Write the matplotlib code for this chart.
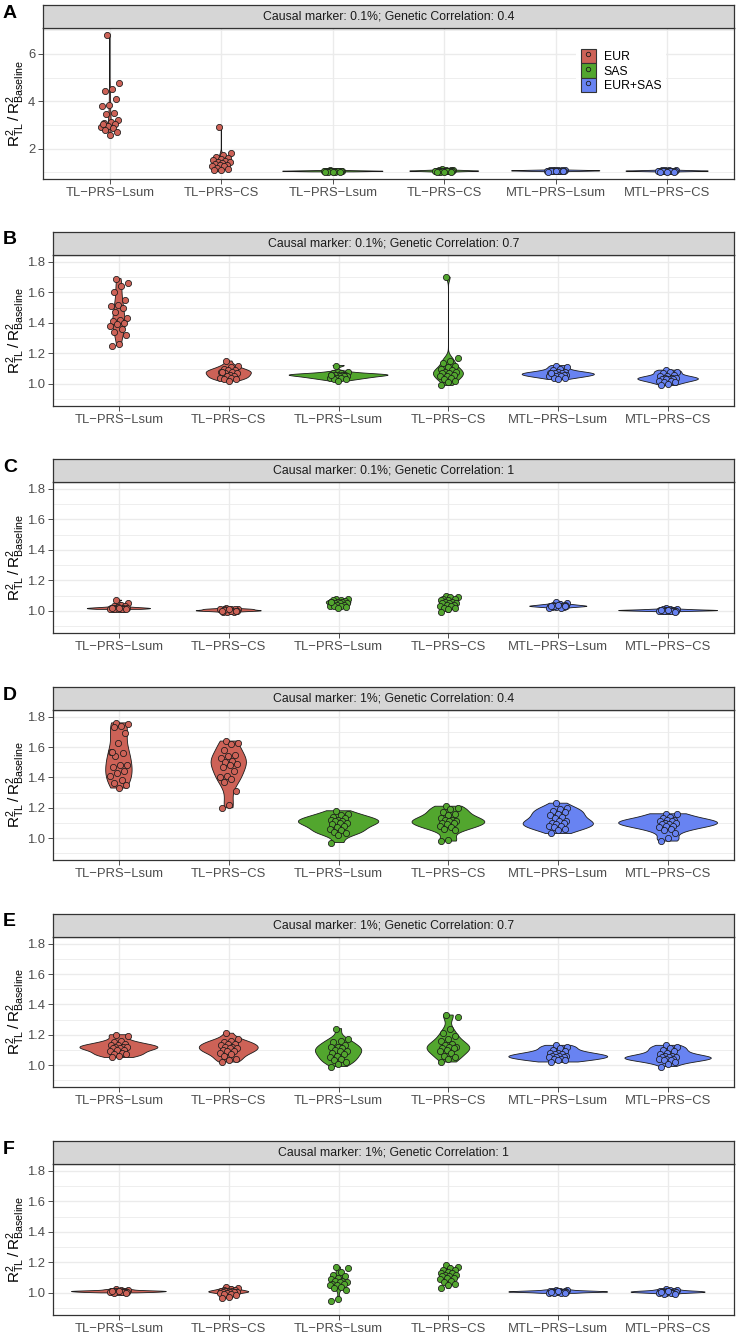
import numpy as np
import matplotlib
matplotlib.use("Agg")
import matplotlib.pyplot as plt
from matplotlib.patches import Patch
from matplotlib.lines import Line2D
from matplotlib.legend_handler import HandlerTuple

plt.rcParams['font.family'] = ['Liberation Sans', 'DejaVu Sans']
plt.rcParams['mathtext.fontset'] = 'custom'
plt.rcParams['mathtext.rm'] = 'Liberation Sans'

# categories
methods = ["TL-PRS-Lsum", "TL-PRS-CS", "TL-PRS-Lsum", "TL-PRS-CS", "MTL-PRS-Lsum", "MTL-PRS-CS"]
groups = ["EUR", "EUR", "SAS", "SAS", "EUR+SAS", "EUR+SAS"]
colors = {"EUR": "#CD6257", "SAS": "#52A62E", "EUR+SAS": "#6883F2"}
letters = ["A", "B", "C", "D", "E", "F"]
titles = ["Causal marker: 0.1%; Genetic Correlation: 0.4",
          "Causal marker: 0.1%; Genetic Correlation: 0.7",
          "Causal marker: 0.1%; Genetic Correlation: 1",
          "Causal marker: 1%; Genetic Correlation: 0.4",
          "Causal marker: 1%; Genetic Correlation: 0.7",
          "Causal marker: 1%; Genetic Correlation: 1"]

# R2 ratios, one list per method (order as in `methods`)
panel_a = [
    [6.80, 4.75, 4.52, 4.44, 4.08, 3.83, 3.79, 3.50, 3.47, 3.20, 3.13, 3.09, 3.02, 2.95, 2.91, 2.87, 2.80, 2.70, 2.56, 3.05],
    [2.93, 1.80, 1.72, 1.65, 1.60, 1.58, 1.52, 1.48, 1.45, 1.42, 1.40, 1.36, 1.33, 1.30, 1.28, 1.25, 1.20, 1.15, 1.12, 1.08],
    [1.08, 1.07, 1.07, 1.06, 1.06, 1.06, 1.05, 1.05, 1.05, 1.05, 1.05, 1.04, 1.04, 1.04, 1.04, 1.03, 1.03, 1.03, 1.02, 1.02],
    [1.13, 1.10, 1.09, 1.08, 1.08, 1.07, 1.07, 1.06, 1.06, 1.06, 1.05, 1.05, 1.05, 1.05, 1.04, 1.04, 1.03, 1.03, 1.02, 1.01],
    [1.10, 1.09, 1.09, 1.08, 1.08, 1.08, 1.07, 1.07, 1.07, 1.07, 1.06, 1.06, 1.06, 1.06, 1.05, 1.05, 1.05, 1.04, 1.04, 1.03],
    [1.11, 1.09, 1.08, 1.08, 1.07, 1.07, 1.06, 1.06, 1.06, 1.06, 1.05, 1.05, 1.05, 1.05, 1.04, 1.04, 1.04, 1.03, 1.03, 1.02],
]
panel_b = [
    [1.69, 1.66, 1.64, 1.60, 1.55, 1.52, 1.51, 1.50, 1.47, 1.43, 1.42, 1.41, 1.40, 1.39, 1.38, 1.36, 1.34, 1.32, 1.26, 1.25],
    [1.15, 1.12, 1.11, 1.10, 1.09, 1.09, 1.08, 1.08, 1.07, 1.07, 1.06, 1.06, 1.05, 1.05, 1.04, 1.04, 1.03, 1.03, 1.02, 1.08],
    [1.12, 1.08, 1.07, 1.07, 1.06, 1.06, 1.06, 1.06, 1.06, 1.05, 1.05, 1.05, 1.05, 1.04, 1.04, 1.04, 1.03, 1.03, 1.02, 1.06],
    [1.70, 1.17, 1.15, 1.14, 1.12, 1.11, 1.10, 1.09, 1.08, 1.08, 1.07, 1.07, 1.06, 1.05, 1.05, 1.04, 1.03, 1.02, 1.01, 0.99],
    [1.12, 1.11, 1.10, 1.09, 1.08, 1.08, 1.07, 1.07, 1.07, 1.06, 1.06, 1.06, 1.06, 1.05, 1.05, 1.05, 1.04, 1.04, 1.03, 1.07],
    [1.09, 1.08, 1.08, 1.07, 1.06, 1.05, 1.05, 1.04, 1.04, 1.04, 1.03, 1.03, 1.03, 1.03, 1.02, 1.02, 1.01, 1.01, 1.00, 0.99],
]
panel_c = [
    [1.07, 1.05, 1.04, 1.035, 1.03, 1.025, 1.02, 1.02, 1.018, 1.016, 1.015, 1.015, 1.014, 1.013, 1.012, 1.012, 1.011, 1.01, 1.02, 1.016],
    [1.02, 1.015, 1.01, 1.01, 1.01, 1.005, 1.005, 1.00, 1.00, 1.00, 1.00, 0.995, 0.995, 0.99, 1.01, 1.00, 1.005, 1.00, 1.01, 1.00],
    [1.08, 1.075, 1.07, 1.07, 1.065, 1.06, 1.06, 1.055, 1.05, 1.05, 1.05, 1.045, 1.04, 1.04, 1.035, 1.03, 1.03, 1.025, 1.02, 1.06],
    [1.10, 1.09, 1.09, 1.08, 1.08, 1.07, 1.07, 1.06, 1.06, 1.05, 1.05, 1.05, 1.04, 1.04, 1.03, 1.03, 1.02, 1.02, 1.01, 0.99],
    [1.06, 1.05, 1.045, 1.04, 1.04, 1.035, 1.035, 1.03, 1.03, 1.03, 1.03, 1.025, 1.025, 1.025, 1.02, 1.02, 1.03, 1.035, 1.04, 1.03],
    [1.02, 1.015, 1.01, 1.01, 1.008, 1.005, 1.005, 1.004, 1.003, 1.002, 1.002, 1.001, 1.00, 1.00, 1.00, 0.998, 0.997, 0.995, 1.006, 1.003],
]
panel_d = [
    [1.76, 1.75, 1.74, 1.73, 1.69, 1.63, 1.57, 1.56, 1.54, 1.48, 1.48, 1.47, 1.44, 1.43, 1.41, 1.38, 1.36, 1.35, 1.33, 1.57],
    [1.64, 1.63, 1.62, 1.58, 1.55, 1.54, 1.53, 1.51, 1.50, 1.49, 1.48, 1.47, 1.44, 1.41, 1.40, 1.39, 1.37, 1.31, 1.22, 1.20],
    [1.18, 1.16, 1.15, 1.14, 1.13, 1.12, 1.12, 1.11, 1.11, 1.10, 1.10, 1.09, 1.08, 1.07, 1.06, 1.05, 1.04, 1.03, 1.02, 0.97],
    [1.21, 1.20, 1.19, 1.17, 1.16, 1.15, 1.13, 1.12, 1.12, 1.11, 1.11, 1.10, 1.10, 1.09, 1.08, 1.07, 1.06, 1.05, 0.99, 0.98],
    [1.23, 1.20, 1.19, 1.18, 1.17, 1.16, 1.15, 1.14, 1.13, 1.11, 1.11, 1.10, 1.10, 1.09, 1.08, 1.08, 1.07, 1.06, 1.05, 1.03],
    [1.16, 1.16, 1.14, 1.13, 1.12, 1.12, 1.11, 1.11, 1.10, 1.10, 1.09, 1.09, 1.08, 1.08, 1.07, 1.06, 1.05, 1.03, 1.00, 0.98],
]
panel_e = [
    [1.20, 1.19, 1.16, 1.15, 1.14, 1.13, 1.13, 1.12, 1.12, 1.12, 1.11, 1.11, 1.10, 1.10, 1.09, 1.08, 1.07, 1.07, 1.06, 1.05],
    [1.21, 1.17, 1.16, 1.15, 1.14, 1.14, 1.13, 1.12, 1.12, 1.11, 1.11, 1.10, 1.09, 1.09, 1.08, 1.07, 1.06, 1.04, 1.03, 1.02],
    [1.24, 1.17, 1.16, 1.15, 1.13, 1.12, 1.12, 1.11, 1.10, 1.09, 1.09, 1.08, 1.07, 1.06, 1.05, 1.04, 1.03, 1.02, 1.01, 0.99],
    [1.33, 1.32, 1.24, 1.21, 1.19, 1.17, 1.16, 1.14, 1.13, 1.12, 1.12, 1.11, 1.11, 1.10, 1.09, 1.08, 1.06, 1.05, 1.04, 1.02],
    [1.13, 1.12, 1.11, 1.10, 1.09, 1.08, 1.08, 1.07, 1.07, 1.06, 1.06, 1.06, 1.05, 1.05, 1.05, 1.04, 1.04, 1.03, 1.03, 1.02],
    [1.13, 1.12, 1.11, 1.10, 1.09, 1.08, 1.07, 1.06, 1.06, 1.05, 1.05, 1.05, 1.04, 1.04, 1.04, 1.03, 1.03, 1.02, 1.01, 0.99],
]
panel_f = [
    [1.025, 1.02, 1.02, 1.015, 1.015, 1.012, 1.01, 1.01, 1.01, 1.008, 1.008, 1.006, 1.005, 1.005, 1.004, 1.003, 1.002, 1.00, 1.01, 1.012],
    [1.04, 1.03, 1.025, 1.02, 1.02, 1.015, 1.012, 1.01, 1.01, 1.008, 1.005, 1.005, 1.003, 1.00, 1.00, 0.995, 0.99, 0.985, 0.975, 0.965],
    [1.17, 1.16, 1.14, 1.12, 1.11, 1.10, 1.09, 1.08, 1.08, 1.07, 1.07, 1.06, 1.06, 1.05, 1.05, 1.04, 1.03, 1.02, 0.96, 0.95],
    [1.18, 1.17, 1.16, 1.15, 1.15, 1.14, 1.13, 1.13, 1.12, 1.12, 1.11, 1.11, 1.10, 1.10, 1.09, 1.08, 1.07, 1.06, 1.05, 1.03],
    [1.02, 1.018, 1.015, 1.013, 1.012, 1.01, 1.01, 1.008, 1.007, 1.006, 1.005, 1.005, 1.004, 1.003, 1.002, 1.00, 0.998, 0.997, 1.01, 1.006],
    [1.025, 1.02, 1.018, 1.015, 1.012, 1.01, 1.01, 1.008, 1.006, 1.005, 1.005, 1.003, 1.002, 1.00, 1.00, 0.998, 0.995, 0.99, 1.01, 1.004],
]
panels = [panel_a, panel_b, panel_c, panel_d, panel_e, panel_f]


def density(y):
    # gaussian kde with R's nrd0 bandwidth, trimmed to data range
    y = np.asarray(y, float)
    n = len(y)
    q75, q25 = np.percentile(y, [75, 25])
    bw = 0.9 * min(y.std(ddof=1), (q75 - q25) / 1.34) * n ** -0.2
    grid = np.linspace(y.min(), y.max(), 512)
    d = np.exp(-0.5 * ((grid[:, None] - y[None, :]) / bw) ** 2).sum(1) / (n * bw * np.sqrt(2 * np.pi))
    return grid, d


W, H = 736, 1336
fig = plt.figure(figsize=(W / 100, H / 100), dpi=100)

# pixel layout: (plot top, plot bottom, left)
layout = [(28, 179, 43), (255, 406, 53), (482, 633, 53),
          (710, 860, 53), (937, 1087, 53), (1164, 1315, 53)]
right = 734
strip_h = 23

for k, vals in enumerate(panels):
    top, bot, left = layout[k]
    ax = fig.add_axes([left / W, 1 - bot / H, (right - left) / W, (bot - top) / H])
    sax = fig.add_axes([left / W, 1 - top / H, (right - left) / W, strip_h / H])
    sax.set_facecolor('#D6D6D6')
    sax.set_xticks([])
    sax.set_yticks([])
    for s in sax.spines.values():
        s.set_color('#333333')
        s.set_linewidth(0.9)
    sax.text(0.5, 0.5, titles[k], ha='center', va='center', fontsize=8.8, color='#1A1A1A',
             transform=sax.transAxes)
    fig.text(3 / W, 1 - (top - strip_h + 8) / H, letters[k], fontsize=14, fontweight='bold',
             ha='left', va='center')

    dens = [density(v) for v in vals]
    dmax = max(d.max() for g, d in dens)
    for i, (v, (g, d)) in enumerate(zip(vals, dens)):
        x = i + 1
        c = colors[groups[i]]
        half = 0.45 * d / dmax
        ax.fill(np.concatenate([x - half, (x + half)[::-1]]), np.concatenate([g, g[::-1]]),
                facecolor=c, edgecolor='#1A1A1A', linewidth=0.6, zorder=2)
        n = len(v)
        jit = ((np.arange(n) * 0.6180339887 + 0.37) % 1 - 0.5) * 2 * 0.085
        ax.scatter(x + jit, v, s=20, c=c, edgecolors='#1A1A1A', linewidths=0.55, zorder=3)

    ax.set_xlim(0.4, 6.6)
    if k == 0:
        allv = np.concatenate([np.asarray(v) for v in vals])
        lo, hi = allv.min(), allv.max()
        pad = 0.05 * (hi - lo)
        ax.set_ylim(lo - pad, hi + pad)
        ax.set_yticks([2, 4, 6])
        ax.set_yticks([1, 3, 5, 7], minor=True)
        ax.set_yticklabels(['2', '4', '6'])
    else:
        ax.set_ylim(0.855, 1.845)
        yt = [1.0, 1.2, 1.4, 1.6, 1.8]
        ax.set_yticks(yt)
        ax.set_yticks([0.9, 1.1, 1.3, 1.5, 1.7], minor=True)
        ax.set_yticklabels([f"{t:.1f}" for t in yt])
    ax.set_xticks(range(1, 7))
    ax.set_xticklabels([m.replace('-', '\u2212') for m in methods])
    ax.set_xticks([], minor=True)
    ax.grid(True, which='major', color='#EBEBEB', linewidth=1.0, zorder=0)
    ax.grid(True, which='minor', axis='y', color='#EBEBEB', linewidth=0.6, zorder=0)
    ax.set_axisbelow(True)
    ax.tick_params(axis='both', which='major', length=3.5, width=0.6, color='#333333',
                   labelsize=9.4, labelcolor='#4D4D4D', pad=2)
    ax.tick_params(axis='y', which='minor', length=0)
    for s in ax.spines.values():
        s.set_color('#333333')
        s.set_linewidth(0.9)
    fig.text(15.5 / W, 1 - (top + bot) / 2 / H, r'$\mathregular{R^2_{TL}\,/\,R^2_{Baseline}}$',
             rotation=90, ha='center', va='center', fontsize=11)

    if k == 0:
        handles = []
        for g in ["EUR", "SAS", "EUR+SAS"]:
            p = Patch(facecolor=colors[g], edgecolor='#333333', linewidth=0.8)
            m = Line2D([], [], linestyle='none', marker='o', markersize=3.2,
                       markerfacecolor='none', markeredgecolor='#1A1A1A', markeredgewidth=0.6)
            handles.append((p, m))
        ax.legend(handles, ["EUR", "SAS", "EUR+SAS"], handler_map={tuple: HandlerTuple(ndivide=1)},
                  loc='upper left', bbox_to_anchor=(0.762, 0.935), frameon=True, framealpha=1,
                  edgecolor='none', facecolor='white', fontsize=8.8, handlelength=1.3,
                  handleheight=1.45, labelspacing=0.0, handletextpad=0.6, borderpad=0.4,
                  fancybox=False)

fig.savefig('out.png', dpi=100)
